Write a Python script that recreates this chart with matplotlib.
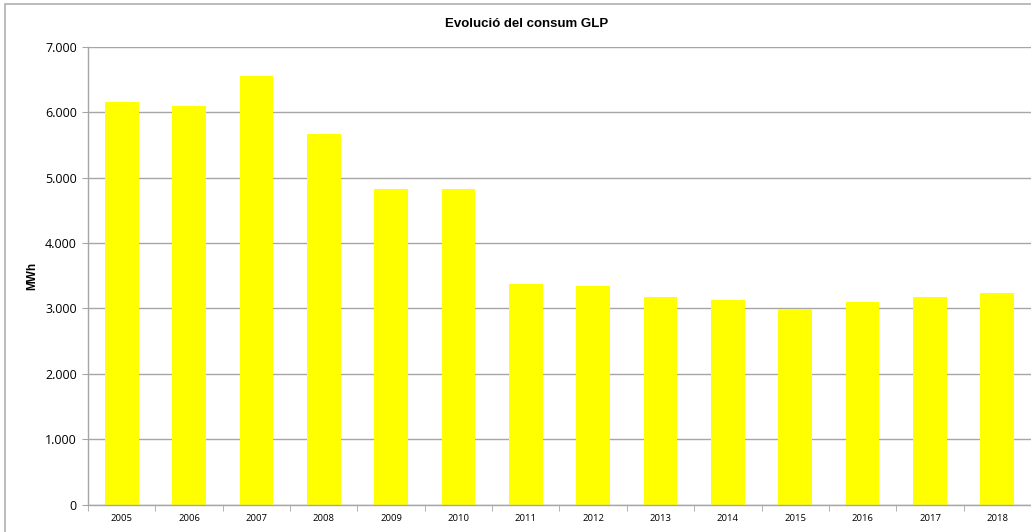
import numpy as np
import matplotlib.pyplot as plt
from matplotlib.patches import Rectangle
from matplotlib.ticker import FuncFormatter, FixedLocator

years = ['2005', '2006', '2007', '2008', '2009', '2010', '2011',
         '2012', '2013', '2014', '2015', '2016', '2017', '2018']
consum_mwh = [6160, 6100, 6556, 5675, 4820, 4825, 3374,
              3343, 3180, 3130, 2998, 3095, 3170, 3236]

GRID = '#a6a6a6'


def thousands(v, pos):
    return f'{int(v):,}'.replace(',', '.')


fig = plt.figure(figsize=(10.31, 5.32), dpi=100)
ax = fig.add_axes([88 / 1031, 1 - 504.5 / 532, 1 - 88 / 1031, (504.5 - 47) / 532])

x = np.arange(len(years))
ax.bar(x, consum_mwh, width=0.5, color='#ffff00', zorder=2)

ax.set_xlim(-0.5, len(years) - 0.5)
ax.set_ylim(0, 7000)
ax.set_yticks(np.arange(0, 7001, 1000))
ax.yaxis.set_major_formatter(FuncFormatter(thousands))
ax.yaxis.grid(True, color=GRID, linewidth=1.0, zorder=0)

ax.set_xticks(x)
ax.set_xticklabels(years, fontsize=6.8, family='Open Sans')
ax.xaxis.set_minor_locator(FixedLocator(np.arange(-0.5, len(years), 1)))
ax.tick_params(axis='x', which='major', length=0, pad=7)
ax.tick_params(axis='x', which='minor', length=4, color=GRID, direction='out')
ax.tick_params(axis='y', length=4, color=GRID, labelsize=9, pad=4)
for lab in ax.get_yticklabels():
    lab.set_family('Open Sans')

for side in ('top', 'right'):
    ax.spines[side].set_visible(False)
for side in ('left', 'bottom'):
    ax.spines[side].set_color(GRID)
    ax.spines[side].set_linewidth(1.0)

ax.set_ylabel('MWh', fontsize=8.5, fontweight='bold', family='Liberation Sans')
ax.yaxis.set_label_coords(-50 / 943, 0.5)
fig.text(527 / 1031, 1 - 24 / 532, 'Evolució del consum GLP', ha='center', va='center',
         fontsize=9.5, fontweight='bold', family='Liberation Sans')

# chart area frame
fig.add_artist(Rectangle((5 / 1031, -0.05), 1.2, 1.05 - 3.5 / 532, transform=fig.transFigure,
                         fill=False, edgecolor='#b0b0b0', linewidth=1.2, clip_on=False))

fig.savefig('out.png', dpi=100)
